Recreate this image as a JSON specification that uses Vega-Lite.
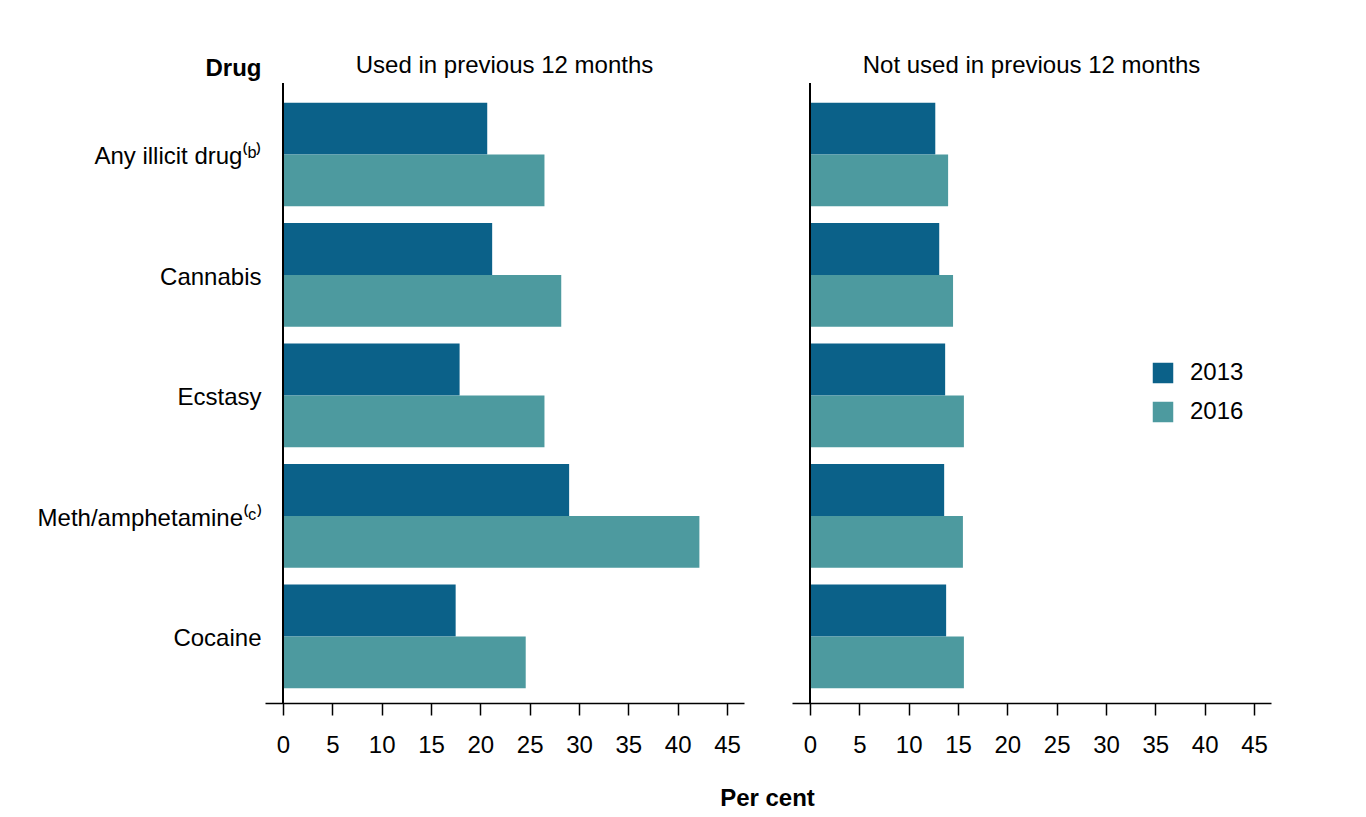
{
  "$schema": "https://vega.github.io/schema/vega-lite/v6.json",
  "background": "white",
  "padding": {"left": 37, "top": 54, "right": 10, "bottom": 5},
  "config": {
    "font": "Liberation Sans",
    "view": {"stroke": null},
    "axis": {"labelColor": "black", "titleColor": "black", "labelFontSize": 24, "titleFontSize": 24, "domainColor": "black", "tickColor": "black", "grid": false},
    "title": {"fontSize": 24, "fontWeight": "normal", "color": "black", "anchor": "middle", "offset": 4}
  },
  "datasets": {
    "used": [
      {"Drug": "Any illicit drug⁽ᵇ⁾", "Year": "2013", "Value": 20.7},
      {"Drug": "Any illicit drug⁽ᵇ⁾", "Year": "2016", "Value": 26.5},
      {"Drug": "Cannabis", "Year": "2013", "Value": 21.2},
      {"Drug": "Cannabis", "Year": "2016", "Value": 28.2},
      {"Drug": "Ecstasy", "Year": "2013", "Value": 17.9},
      {"Drug": "Ecstasy", "Year": "2016", "Value": 26.5},
      {"Drug": "Meth/amphetamine⁽ᶜ⁾", "Year": "2013", "Value": 29.0},
      {"Drug": "Meth/amphetamine⁽ᶜ⁾", "Year": "2016", "Value": 42.2},
      {"Drug": "Cocaine", "Year": "2013", "Value": 17.5},
      {"Drug": "Cocaine", "Year": "2016", "Value": 24.6}
    ],
    "notused": [
      {"Drug": "Any illicit drug⁽ᵇ⁾", "Year": "2013", "Value": 12.7},
      {"Drug": "Any illicit drug⁽ᵇ⁾", "Year": "2016", "Value": 14.0},
      {"Drug": "Cannabis", "Year": "2013", "Value": 13.1},
      {"Drug": "Cannabis", "Year": "2016", "Value": 14.5},
      {"Drug": "Ecstasy", "Year": "2013", "Value": 13.7},
      {"Drug": "Ecstasy", "Year": "2016", "Value": 15.6},
      {"Drug": "Meth/amphetamine⁽ᶜ⁾", "Year": "2013", "Value": 13.6},
      {"Drug": "Meth/amphetamine⁽ᶜ⁾", "Year": "2016", "Value": 15.5},
      {"Drug": "Cocaine", "Year": "2013", "Value": 13.8},
      {"Drug": "Cocaine", "Year": "2016", "Value": 15.6}
    ]
  },
  "spacing": 48,
  "bounds": "flush",
  "resolve": {"legend": {"color": "independent"}},
  "hconcat": [
    {
      "width": 479,
      "height": 620,
      "title": {"text": "Used in previous 12 months", "offset": -22},
      "data": {"name": "used"},
      "layer": [
        {
          "mark": {"type": "bar"},
          "encoding": {
            "y": {"field": "Drug", "type": "nominal", "sort": null,
              "scale": {"paddingInner": 0.14, "paddingOuter": 0.143, "align": 0.57},
              "axis": {"title": "Drug", "titleAngle": 0, "titleAlign": "right", "titleX": -4, "titleY": -15, "titleBaseline": "middle", "titleFontWeight": "bold", "labelPadding": 4, "ticks": false, "domain": false, "labelOffset": 3, "labelLimit": 400}},
            "yOffset": {"field": "Year", "type": "nominal", "scale": {"paddingInner": 0, "paddingOuter": 0}},
            "x": {"field": "Value", "type": "quantitative",
              "scale": {"domain": [-1.82, 46.72], "nice": false, "zero": false},
              "axis": {"values": [0, 5, 10, 15, 20, 25, 30, 35, 40, 45], "title": "Per cent", "titleFontWeight": "bold", "titleX": 502, "titleY": 95, "titleBaseline": "middle", "titleAnchor": null, "tickSize": 12, "tickWidth": 1.5, "domainWidth": 1.5, "labelPadding": 18}},
            "x2": {"datum": 0},
            "color": {"field": "Year", "type": "nominal", "scale": {"domain": ["2013", "2016"], "range": ["#0b6189", "#4d9a9f"]}, "legend": null}
          }
        },
        {
          "mark": {"type": "rule", "color": "black", "strokeWidth": 1.5},
          "encoding": {"x": {"datum": 0}}
        }
      ]
    },
    {
      "width": 479,
      "height": 620,
      "title": {"text": "Not used in previous 12 months"},
      "data": {"name": "notused"},
      "layer": [
        {
          "mark": {"type": "bar"},
          "encoding": {
            "y": {"field": "Drug", "type": "nominal", "sort": null,
              "scale": {"paddingInner": 0.14, "paddingOuter": 0.143, "align": 0.57},
              "axis": null},
            "yOffset": {"field": "Year", "type": "nominal", "scale": {"paddingInner": 0, "paddingOuter": 0}},
            "x": {"field": "Value", "type": "quantitative",
              "scale": {"domain": [-1.82, 46.72], "nice": false, "zero": false},
              "axis": {"values": [0, 5, 10, 15, 20, 25, 30, 35, 40, 45], "title": null, "tickSize": 12, "tickWidth": 1.5, "domainWidth": 1.5, "labelPadding": 18}},
            "x2": {"datum": 0},
            "color": {"field": "Year", "type": "nominal", "scale": {"domain": ["2013", "2016"], "range": ["#0b6189", "#4d9a9f"]},
              "legend": {"orient": "none", "legendX": 359, "legendY": 278, "title": null, "symbolType": "square", "symbolSize": 420, "symbolStrokeWidth": 0, "labelFontSize": 24, "labelColor": "black", "rowPadding": 15, "labelOffset": 15, "padding": 0}}
          }
        },
        {
          "mark": {"type": "rule", "color": "black", "strokeWidth": 1.5},
          "encoding": {"x": {"datum": 0}}
        }
      ]
    }
  ]
}
